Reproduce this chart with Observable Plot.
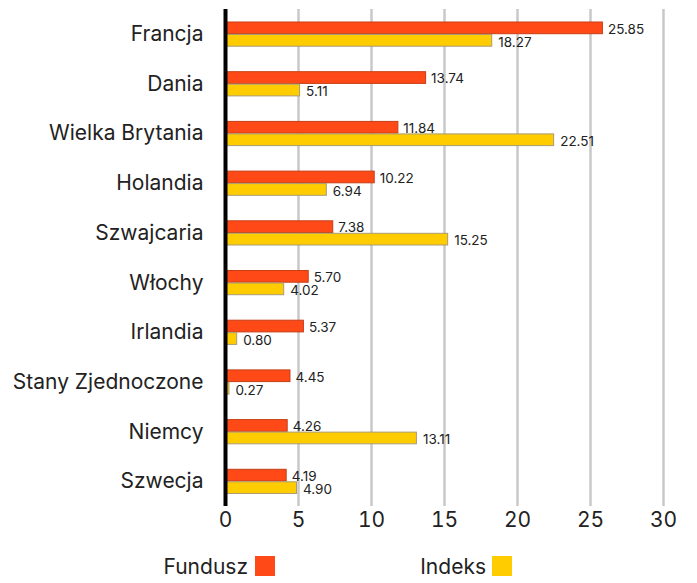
<!DOCTYPE html>
<html>
<head>
<meta charset="utf-8">
<script src="https://cdn.jsdelivr.net/npm/d3@7"></script>
<script src="https://cdn.jsdelivr.net/npm/@observablehq/plot@0.6"></script>
<style>
  html, body { margin: 0; padding: 0; background: #fff; }
  body { font-family: Inter, "Noto Sans", sans-serif; }
  #wrap { position: relative; width: 697px; height: 583px; }
  .legt { position: absolute; top: 554px; font-size: 21px; line-height: 26px; color: #222; text-align: right; width: 120px; }
  .sw { position: absolute; top: 556px; width: 20px; height: 20px; }
</style>
</head>
<body>
<div id="wrap"></div>
<script>
const countries = ["Francja", "Dania", "Wielka Brytania", "Holandia", "Szwajcaria", "Włochy", "Irlandia", "Stany Zjednoczone", "Niemcy", "Szwecja"];
const fundValues = [25.85, 13.74, 11.84, 10.22, 7.38, 5.70, 5.37, 4.45, 4.26, 4.19];
const indexValues = [18.27, 5.11, 22.51, 6.94, 15.25, 4.02, 0.80, 0.27, 13.11, 4.90];
const xTicks = [0, 5, 10, 15, 20, 25, 30];
const seriesNames = ["Fundusz", "Indeks"];
const colors = ["#FF4A17", "#FFCC00"];
const strokes = ["#c63e14", "#a89c74"];

const fund = countries.map((c, i) => ({country: c, value: fundValues[i]}));
const index = countries.map((c, i) => ({country: c, value: indexValues[i]}));

const chart = Plot.plot({
  width: 697,
  height: 540,
  marginLeft: 225,
  marginRight: 34,
  marginTop: 9,
  marginBottom: 34,
  style: {fontFamily: "Inter, 'Noto Sans', sans-serif", color: "#222", background: "#fff"},
  x: {domain: [0, 30], ticks: xTicks, tickSize: 0, tickPadding: 6, label: null},
  y: {domain: countries, padding: 0, round: false, tickSize: 0, tickPadding: 22, label: null},
  marks: [
    Plot.ruleX(xTicks.filter(d => d > 0), {stroke: "#c8c8c8", strokeWidth: 2.5}),
    Plot.barX(fund, {x: "value", y: "country", fill: colors[0], stroke: strokes[0], strokeWidth: 1, insetTop: 13, insetBottom: 25}),
    Plot.barX(index, {x: "value", y: "country", fill: colors[1], stroke: strokes[1], strokeWidth: 1, insetTop: 25.5, insetBottom: 12.5}),
    Plot.text(fund, {x: "value", y: "country", text: d => d.value.toFixed(2), textAnchor: "start", dx: 5, dy: -5, fontSize: 13.5, fill: "#222"}),
    Plot.text(index, {x: "value", y: "country", text: d => d.value.toFixed(2), textAnchor: "start", dx: 6, dy: 8, fontSize: 13.5, fill: "#222"}),
    Plot.ruleX([0], {stroke: "#000", strokeWidth: 4}),
    Plot.axisX({ticks: xTicks, tickSize: 0, tickPadding: 6, fontSize: 21, tickFormat: d => String(d)}),
    Plot.axisY({tickSize: 0, tickPadding: 22, fontSize: 21})
  ]
});

const wrap = document.getElementById("wrap");
wrap.appendChild(chart);

const textRight = [248, 486];
const swatchLeft = [255, 492];
seriesNames.forEach((name, i) => {
  const t = document.createElement("div");
  t.className = "legt";
  t.style.left = (textRight[i] - 120) + "px";
  t.textContent = name;
  wrap.appendChild(t);
  const s = document.createElement("div");
  s.className = "sw";
  s.style.left = swatchLeft[i] + "px";
  s.style.background = colors[i];
  wrap.appendChild(s);
});
</script>
</body>
</html>
